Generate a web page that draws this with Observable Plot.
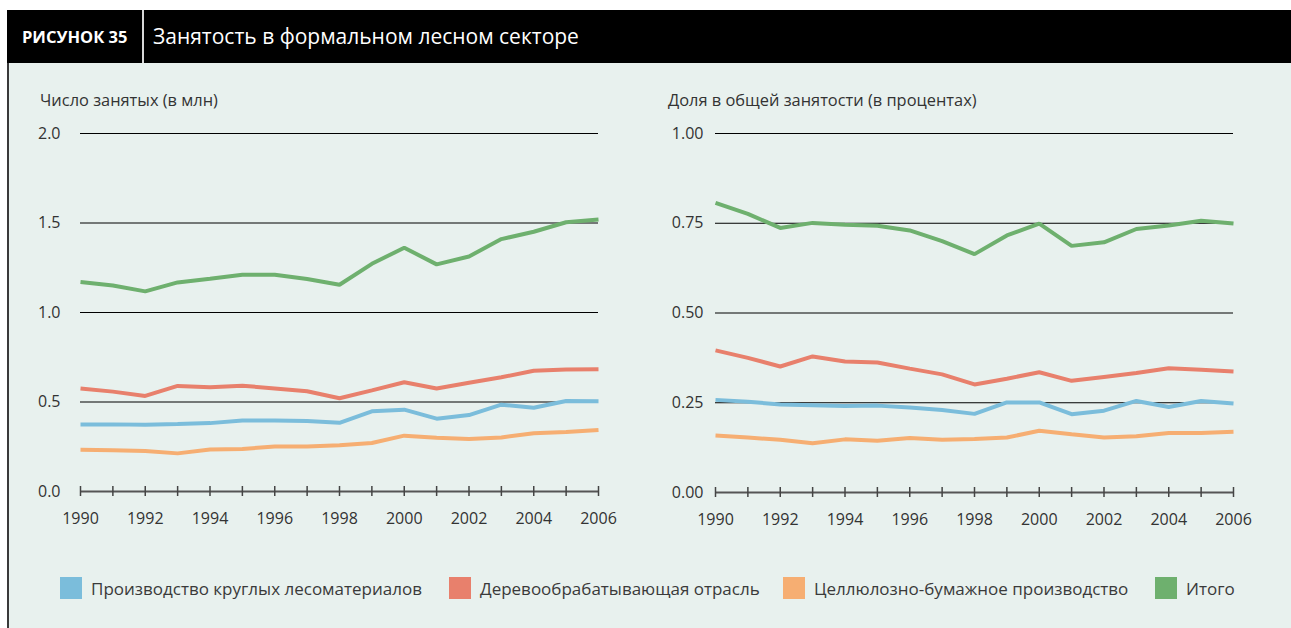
<!DOCTYPE html>
<html>
<head>
<meta charset="utf-8">
<script src="https://cdn.jsdelivr.net/npm/d3@7"></script>
<script src="https://cdn.jsdelivr.net/npm/@observablehq/plot@0.6"></script>
<style>
  html, body { margin: 0; padding: 0; background: #fff; }
  body { width: 1291px; height: 628px; position: relative; overflow: hidden; font-family: "Open Sans", "Noto Sans", sans-serif; }
  #header { position: absolute; left: 7px; top: 10px; width: 1284px; height: 53px; background: #000; color: #fff; }
  #fig { position: absolute; left: 15px; top: 0; line-height: 53px; font-weight: 700; font-size: 16.5px; }
  #sep { position: absolute; left: 135px; top: 0; width: 2px; height: 53px; background: #d8d8d8; }
  #title { position: absolute; left: 146px; top: 0; line-height: 53px; font-size: 21px; font-weight: 400; }
  #panel { position: absolute; left: 7px; top: 63px; width: 1284px; height: 565px; background: #e8f1ee; border-left: 2px solid #3a3a3a; box-sizing: border-box; }
  .ylab { position: absolute; top: 88px; font-size: 16.4px; color: #333; }
  .chart { position: absolute; top: 113px; }
  .leg { position: absolute; top: 577px; height: 22px; display: flex; align-items: center; font-size: 17px; color: #3a3a3a; white-space: nowrap; }
  .sw { width: 22px; height: 22px; margin-right: 9px; }
</style>
</head>
<body>
<div id="header"><div id="fig">РИСУНОК 35</div><div id="sep"></div><div id="title">Занятость в формальном лесном секторе</div></div>
<div id="panel"></div>
<div class="ylab" style="left:40px">Число занятых (в млн)</div>
<div class="ylab" style="left:668px">Доля в общей занятости (в процентах)</div>
<div id="left" class="chart" style="left:30px"></div>
<div id="right" class="chart" style="left:665px"></div>
<div id="legend"></div>
<script>
const years = [1990, 1991, 1992, 1993, 1994, 1995, 1996, 1997, 1998, 1999, 2000, 2001, 2002, 2003, 2004, 2005, 2006];
const xTickLabels = [1990, 1992, 1994, 1996, 1998, 2000, 2002, 2004, 2006];
const seriesNames = ["Производство круглых лесоматериалов", "Деревообрабатывающая отрасль", "Целлюлозно-бумажное производство", "Итого"];
const seriesColors = ["#7bbddb", "#e8806c", "#f6ae72", "#6eb06e"];

// Число занятых (в млн)
const roundwoodCount = [0.375, 0.375, 0.373, 0.377, 0.382, 0.397, 0.397, 0.394, 0.384, 0.448, 0.457, 0.407, 0.427, 0.485, 0.468, 0.506, 0.504];
const woodCount      = [0.576, 0.558, 0.534, 0.590, 0.582, 0.591, 0.576, 0.560, 0.521, 0.565, 0.610, 0.575, 0.608, 0.638, 0.675, 0.681, 0.683];
const pulpCount      = [0.233, 0.231, 0.226, 0.213, 0.235, 0.237, 0.252, 0.252, 0.259, 0.271, 0.312, 0.300, 0.293, 0.302, 0.325, 0.332, 0.343];
const totalCount     = [1.170, 1.151, 1.118, 1.168, 1.188, 1.211, 1.211, 1.187, 1.155, 1.272, 1.362, 1.269, 1.313, 1.410, 1.451, 1.504, 1.519];

// Доля в общей занятости (в процентах)
const roundwoodShare = [0.258, 0.253, 0.245, 0.243, 0.241, 0.242, 0.237, 0.230, 0.219, 0.251, 0.251, 0.218, 0.228, 0.255, 0.238, 0.255, 0.248];
const woodShare      = [0.396, 0.375, 0.351, 0.379, 0.365, 0.362, 0.345, 0.329, 0.301, 0.317, 0.335, 0.311, 0.322, 0.333, 0.346, 0.342, 0.337];
const pulpShare      = [0.159, 0.153, 0.147, 0.137, 0.148, 0.144, 0.152, 0.147, 0.149, 0.153, 0.172, 0.162, 0.153, 0.157, 0.166, 0.166, 0.169];
const totalShare     = [0.807, 0.776, 0.737, 0.751, 0.746, 0.743, 0.730, 0.700, 0.664, 0.716, 0.749, 0.687, 0.697, 0.734, 0.744, 0.757, 0.749];

const yTicksLeft = [0, 0.5, 1.0, 1.5, 2.0];
const yTicksRight = [0, 0.25, 0.5, 0.75, 1.0];

function toLong(arrays) {
  const out = [];
  arrays.forEach((arr, si) => arr.forEach((v, i) => out.push({year: years[i], value: v, series: seriesNames[si]})));
  return out;
}

function makeChart(arrays, yTicks, digits, pad, marginBottom) {
  const data = toLong(arrays);
  return Plot.plot({
    width: 600, height: 430,
    marginLeft: 50, marginRight: 32, marginTop: 20, marginBottom,
    style: {background: "transparent", fontFamily: "'Open Sans', 'Noto Sans', sans-serif", fontSize: "16px", color: "#333", overflow: "visible"},
    x: {domain: [1990, 2006], label: null},
    y: {domain: [yTicks[0], yTicks[yTicks.length - 1]], label: null},
    color: {domain: seriesNames, range: seriesColors},
    marks: [
      Plot.ruleY(yTicks.filter(v => v > 0), {stroke: "#000", strokeWidth: 1}),
      Plot.ruleY([0], {stroke: "#555", strokeWidth: 2}),
      Plot.ruleX(years, {x: d => d, y1: 0, y2: 0, insetTop: -5, insetBottom: -5, stroke: "#444", strokeWidth: 1.5}),
      Plot.line(data, {x: "year", y: "value", z: "series", stroke: "series", strokeWidth: 4, strokeLinejoin: "miter", strokeLinecap: "butt"}),
      Plot.axisX({ticks: xTickLabels, tickSize: 0, tickPadding: 21, tickFormat: d => String(d), fill: "#333"}),
      Plot.axisY({ticks: yTicks, tickSize: 0, tickPadding: pad, tickFormat: d => d.toFixed(digits), fill: "#333"})
    ]
  });
}

document.getElementById("left").append(makeChart([roundwoodCount, woodCount, pulpCount, totalCount], yTicksLeft, 1, 20, 52));
document.getElementById("right").append(makeChart([roundwoodShare, woodShare, pulpShare, totalShare], yTicksRight, 2, 12, 51));

const legendX = [60, 449, 783, 1155];
const legend = document.getElementById("legend");
seriesNames.forEach((name, i) => {
  const item = document.createElement("div");
  item.className = "leg";
  item.style.left = legendX[i] + "px";
  const sw = document.createElement("div");
  sw.className = "sw";
  sw.style.background = seriesColors[i];
  const t = document.createElement("span");
  t.textContent = name;
  item.append(sw, t);
  legend.append(item);
});
</script>
</body>
</html>
